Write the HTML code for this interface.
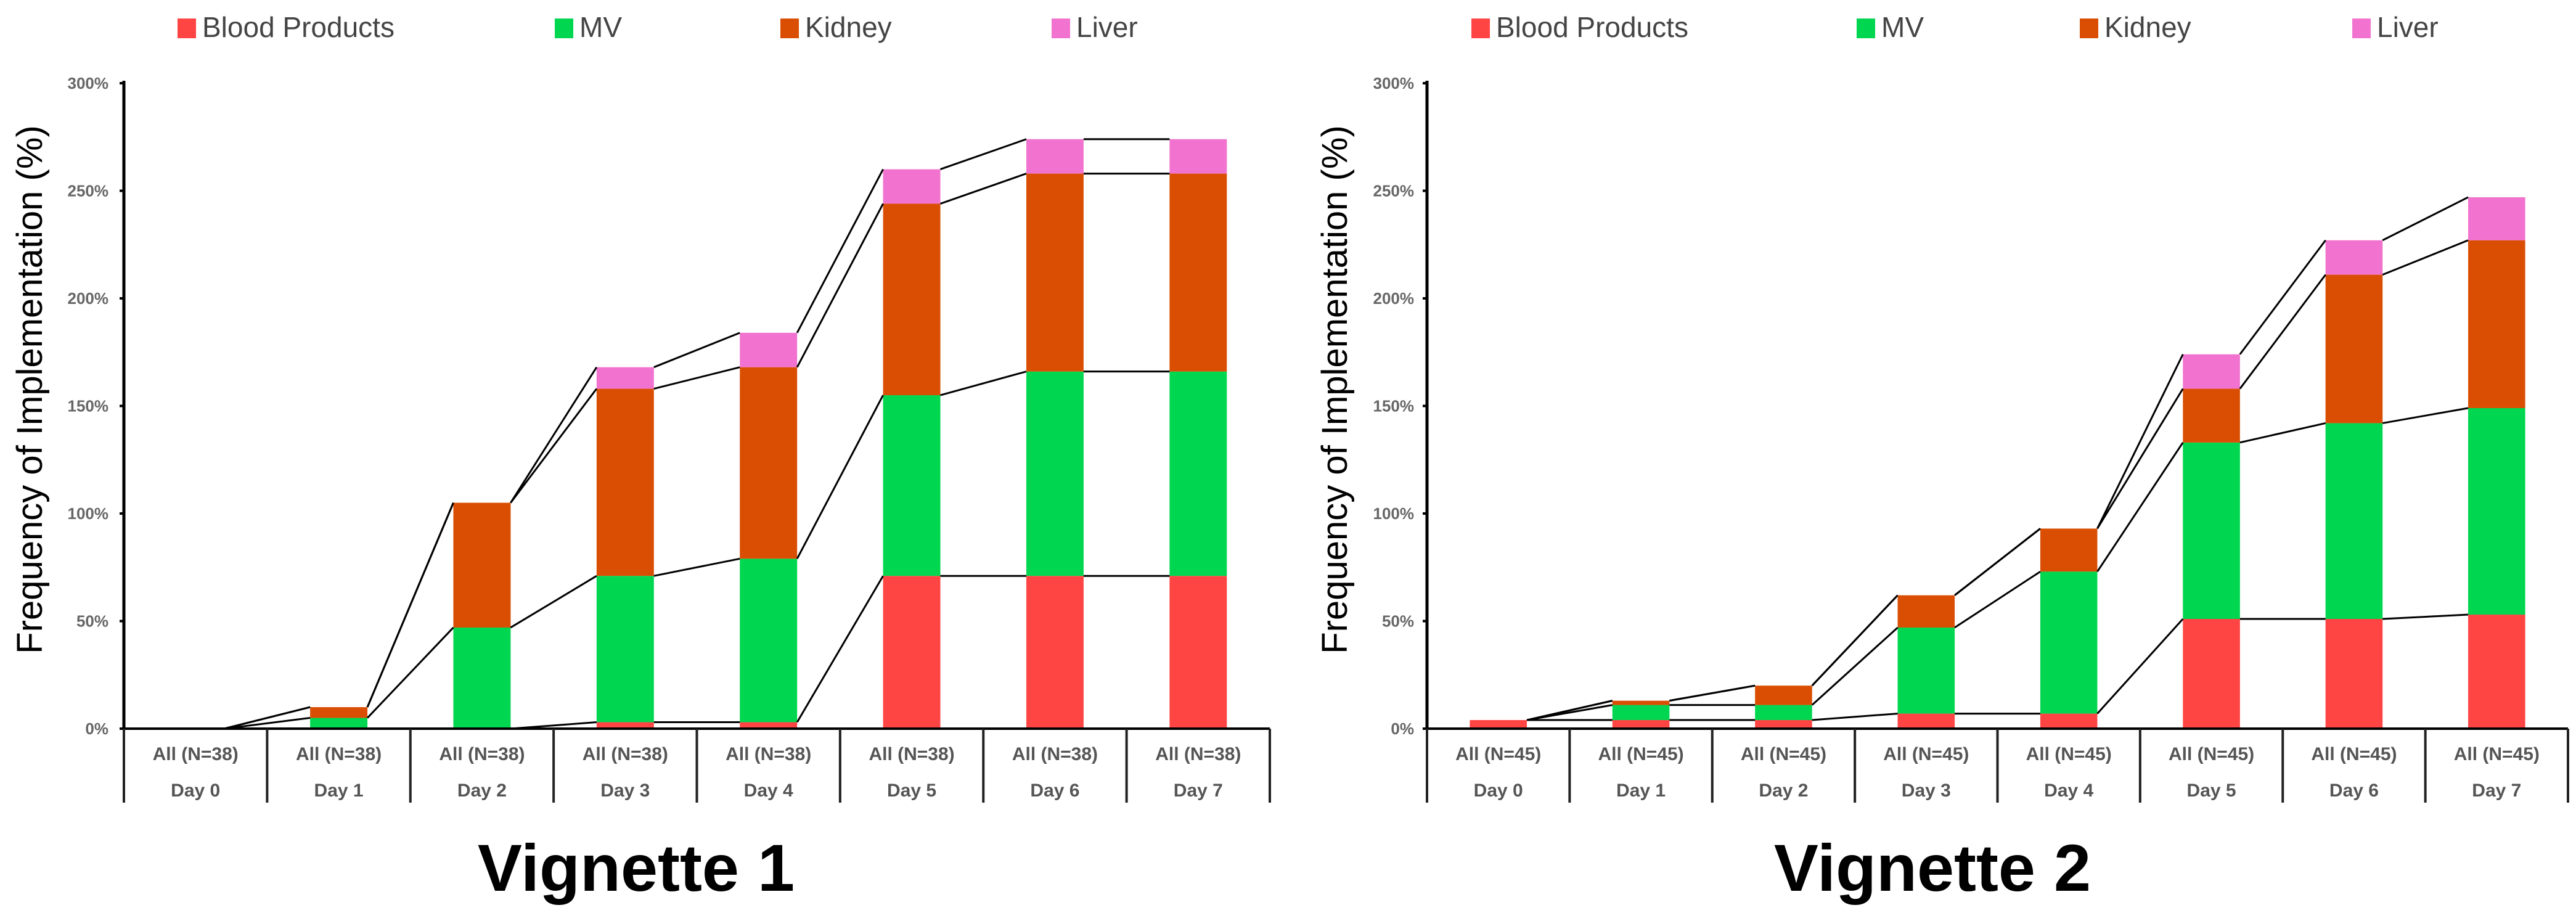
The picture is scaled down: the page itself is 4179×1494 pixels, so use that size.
<!DOCTYPE html>
<html><head><meta charset="utf-8"><style>
html,body{margin:0;padding:0;background:#fff;}
svg{display:block;}
</style></head><body>
<svg id="chart" width="4179" height="1494" viewBox="0 0 4179 1494" xmlns="http://www.w3.org/2000/svg" font-family="Liberation Sans, sans-serif"></svg>
<script>
const days = ["Day 0","Day 1","Day 2","Day 3","Day 4","Day 5","Day 6","Day 7"];
const seriesNames = ["Blood Products","MV","Kidney","Liver"];
const seriesColors = ["#FF4444","#00D64F","#D94E02","#F272CF"];
const yTicks = [0,50,100,150,200,250,300];
const v1Label = "All (N=38)";
const v1Blood = [0,0,0,3,3,71,71,71];
const v1MV = [0,5,47,68,76,84,95,95];
const v1Kidney = [0,5,58,87,89,89,92,92];
const v1Liver = [0,0,0,10,16,16,16,16];
const v2Label = "All (N=45)";
const v2Blood = [4,4,4,7,7,51,51,53];
const v2MV = [0,7,7,40,66,82,91,96];
const v2Kidney = [0,2,9,15,20,25,69,78];
const v2Liver = [0,0,0,0,0,16,16,20];

const NS="http://www.w3.org/2000/svg";
const svg=document.getElementById('chart');
function mk(tag,attrs,parent){const e=document.createElementNS(NS,tag);for(const k in attrs)e.setAttribute(k,attrs[k]);(parent||svg).appendChild(e);return e;}

function drawChart(cfg){
  const g=mk('g',{});
  
  
  const x0=cfg.x0,x1=cfg.x1,yb=1182,yt=135;
  const n=days.length,cw=(x1-x0)/n,bw=cw*0.4;
  const y=v=>yb-(v/300)*(yb-yt);
  const xc=i=>x0+cw*(i+0.5);
  cfg.legendX.forEach((lx,i)=>{
    const lg=mk('g',{},g);
    
    
    mk('rect',{x:lx,y:30,width:30,height:32,fill:seriesColors[i]},lg);
    const t=mk('text',{x:lx+40,y:60,'font-size':46,fill:'#444'},lg);
    t.textContent=seriesNames[i];
  });
  yTicks.forEach(v=>{
    const t=mk('text',{x:cfg.tickX,y:y(v)+9,'font-size':26,'font-weight':'bold',fill:'#666','text-anchor':'end'},g);
    
    
    t.textContent=v+'%';
    mk('line',{x1:x0-7,x2:x0,y1:y(v),y2:y(v),stroke:'#000','stroke-width':4},g);
  });
  const yt2=mk('text',{x:cfg.titleX,y:632,'font-size':58,fill:'#000','text-anchor':'middle',transform:`rotate(-90 ${cfg.titleX} 632)`},g);
  
  
  yt2.textContent='Frequency of Implementation (%)';
  const series=cfg.data;
  const cum=days.map((d,i)=>{let s=0;return series.map(a=>(s+=a[i]));});
  days.forEach((d,i)=>{
    let base=0;
    series.forEach((arr,k)=>{
      const v=arr[i];
      if(v>0){
        const r=mk('rect',{x:xc(i)-bw/2,y:y(base+v),width:bw,height:y(base)-y(base+v),fill:seriesColors[k]},g);
        
        
      }
      base+=v;
    });
  });
  for(let i=0;i<n-1;i++){
    for(let k=0;k<series.length;k++){
      const l=mk('line',{x1:xc(i)+bw/2,y1:y(cum[i][k]),x2:xc(i+1)-bw/2,y2:y(cum[i+1][k]),stroke:'#000','stroke-width':3},g);
      
      
    }
  }
  mk('line',{x1:x0,x2:x0,y1:yt-4,y2:yb,stroke:'#000','stroke-width':5},g);
  mk('line',{x1:x0,x2:x1,y1:yb,y2:yb,stroke:'#000','stroke-width':4},g);
  for(let i=0;i<=n;i++){
    mk('line',{x1:x0+cw*i,x2:x0+cw*i,y1:yb,y2:1302,stroke:'#222','stroke-width':4},g);
  }
  days.forEach((d,i)=>{
    const a=mk('text',{x:xc(i),y:1233,'font-size':30,'font-weight':'bold',fill:'#555','text-anchor':'middle'},g);
    
    
    a.textContent=cfg.label;
    const b=mk('text',{x:xc(i),y:1292,'font-size':30,'font-weight':'bold',fill:'#555','text-anchor':'middle'},g);
    
    
    b.textContent=d;
  });
  const vt=mk('text',{x:cfg.vx,y:1445,'font-size':108,'font-weight':'bold',fill:'#000','text-anchor':'middle'},g);
  
  
  vt.textContent=cfg.title;
}
drawChart({name:'vignette-1-chart',x0:201,x1:2060,tickX:176,titleX:68,vx:1032,title:'Vignette 1',label:v1Label,
  legendX:[288,900,1266,1706],data:[v1Blood,v1MV,v1Kidney,v1Liver]});
drawChart({name:'vignette-2-chart',x0:2315,x1:4166,tickX:2294,titleX:2185,vx:3135,title:'Vignette 2',label:v2Label,
  legendX:[2387,3012,3374,3816],data:[v2Blood,v2MV,v2Kidney,v2Liver]});
</script>
</body></html>
